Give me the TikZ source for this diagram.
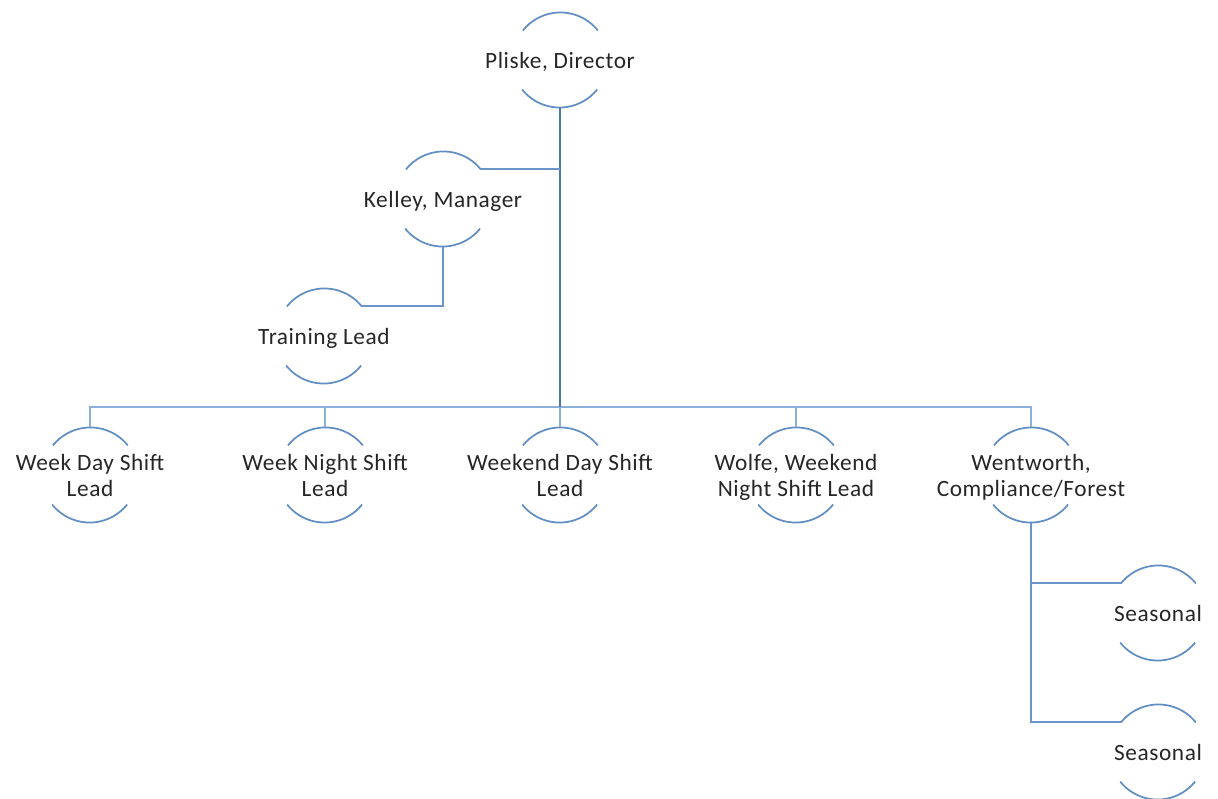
\documentclass[tikz,border=0pt]{standalone}
\usepackage{fontspec}
\setmainfont{Carlito}[LetterSpace=2.5]
\definecolor{arcblue}{RGB}{96,142,196}
\definecolor{lineblue}{RGB}{106,148,202}
\definecolor{barblue}{RGB}{140,175,218}
\definecolor{trunkblue}{RGB}{74,118,176}
\definecolor{txt}{RGB}{38,38,38}
\newcommand{\twoline}[1]{\makebox[0pt]{\raisebox{-2.4pt}[\height][\depth]{\begin{tabular}{@{}c@{}}#1\end{tabular}}}}
\newcommand{\arcpair}[1]{%
  \draw[arcline] (#1.38.7) arc[start angle=38.7,end angle=141.3,radius=36pt];
  \draw[arcline] (#1.218.7) arc[start angle=218.7,end angle=321.3,radius=36pt];}
\tikzset{
  circ/.style={circle,minimum size=72pt,inner sep=0pt,outer sep=0pt,draw=none,
    text=txt,font=\fontsize{17.5}{19.5}\selectfont},
  arcline/.style={draw=arcblue,line width=1.3pt},
  conn/.style={draw=lineblue,line width=1.5pt},
  busline/.style={draw=barblue,line width=1.9pt},
  trunk/.style={draw=trunkblue,line width=2.1pt}
}
\begin{document}
\begin{tikzpicture}[x=0.75pt,y=0.75pt]
\useasboundingbox (0,0) rectangle (1218,-799);
\node[circ] (pl) at (560,-60) {\twoline{Pliske, Director}};
\node[circ] (ke) at (443,-199) {\twoline{Kelley, Manager}};
\node[circ] (tr) at (324,-336) {\twoline{Training Lead}};
\node[circ] (wd) at (90,-475) {\twoline{Week Day Shift\\Lead}};
\node[circ] (wn) at (325,-475) {\twoline{Week Night Shift\\Lead}};
\node[circ] (ed) at (560,-475) {\twoline{Weekend Day Shift\\Lead}};
\node[circ] (wo) at (796,-475) {\twoline{Wolfe, Weekend\\Night Shift Lead}};
\node[circ] (we) at (1031,-475) {\twoline{Wentworth,\\Compliance/Forest}};
\node[circ] (s1) at (1158,-613) {\twoline{Seasonal}};
\node[circ] (s2) at (1158,-752) {\twoline{Seasonal}};
\coordinate (bus) at (0,-407);
\foreach \n in {pl,ke,tr,wd,wn,ed,wo,we,s1,s2}{\arcpair{\n}}
% bus
\draw[busline] (wd.north) |- (we.north |- bus) -- (we.north);
\foreach \n in {wn,ed,wo}{\draw[busline] (\n.north) -- (\n.north |- bus);}
% trunk
\draw[trunk] (pl.south) -- (pl.south |- bus);
\draw[conn] (ke.38.7) -- (ke.38.7 -| pl.south);
\draw[conn] (ke.south) |- (tr.38.7);
\draw[conn] (we.south) |- (s1.141.3);
\draw[conn] (we.south) |- (s2.141.3);
\end{tikzpicture}
\end{document}
